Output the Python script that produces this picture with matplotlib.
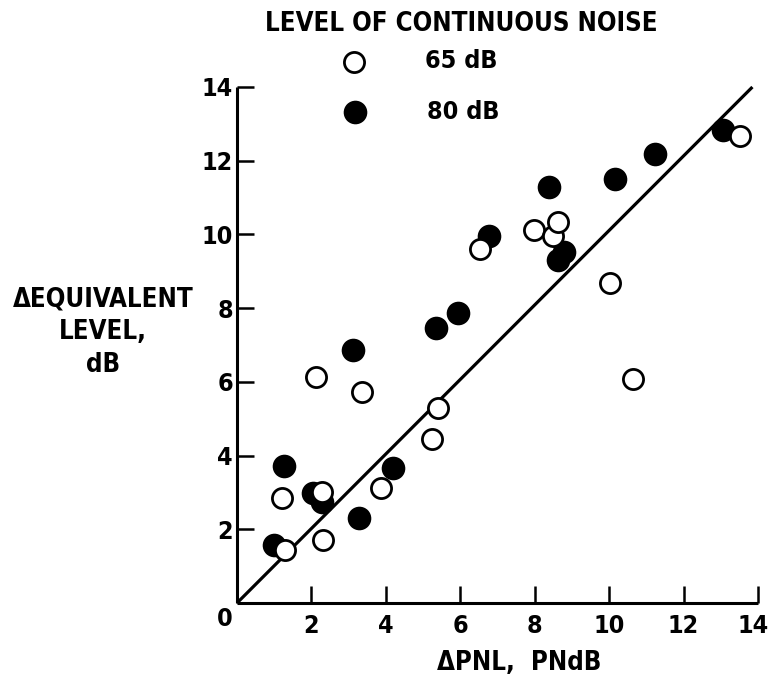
import matplotlib
matplotlib.use("Agg")
import matplotlib.pyplot as plt
from matplotlib.transforms import ScaledTranslation

# ---- data ----
open_x = [1.20, 1.29, 2.12, 2.28, 2.30, 3.35, 3.87, 5.25, 5.39, 6.53, 7.97, 8.50, 8.62, 10.03, 10.63, 13.52]
open_y = [2.85, 1.44, 6.12, 3.02, 1.71, 5.73, 3.11, 4.44, 5.28, 9.61, 10.13, 9.97, 10.33, 8.68, 6.09, 12.68]

filled_x = [0.99, 1.25, 2.05, 2.28, 3.13, 3.29, 4.18, 5.35, 5.95, 6.78, 8.39, 8.62, 8.79, 10.16, 11.24, 13.06]
filled_y = [1.57, 3.71, 2.99, 2.75, 6.86, 2.30, 3.65, 7.47, 7.87, 9.95, 11.28, 9.30, 9.52, 11.51, 12.19, 12.84]

fit_x = [0.0, 13.85]
fit_y = [0.0, 14.0]

ticks = [2, 4, 6, 8, 10, 12, 14]
tick_labels = ["2", "4", "6", "8", "10", "12", "14"]

title = "LEVEL OF CONTINUOUS NOISE"
legend_labels = ["65 dB", "80 dB"]
xlabel = "\u0394PNL,  PNdB"
ylabel = "\u0394EQUIVALENT\nLEVEL,\ndB"

# ---- style ----
FAM = ["DejaVu Sans"]
plt.rcParams["font.family"] = FAM
plt.rcParams["font.weight"] = "bold"
plt.rcParams["font.stretch"] = "condensed"

W, H = 770, 682
fig = plt.figure(figsize=(W / 100, H / 100), dpi=100)

def fx(px):
    return px / W

def fy(py):
    return 1 - py / H

TXT = dict(fontweight="bold", fontstretch="condensed")

x0, x1 = 237, 758
y0, y1 = 603, 87
ax = fig.add_axes([fx(x0), fy(y0), (x1 - x0) / W, (y0 - y1) / H])
ax.set_xlim(0, 14)
ax.set_ylim(0, 14)
for s in ["top", "right"]:
    ax.spines[s].set_visible(False)
for s in ["left", "bottom"]:
    ax.spines[s].set_linewidth(2.2)
    ax.spines[s].set_capstyle("butt")

ax.set_xticks(ticks)
ax.set_xticklabels(tick_labels)
ax.set_yticks(ticks)
ax.set_yticklabels(tick_labels)
ax.tick_params(axis="both", direction="in", length=12, width=1.8, labelsize=18)
ax.tick_params(axis="x", pad=8)
ax.tick_params(axis="y", pad=3)
for lab in ax.get_xticklabels() + ax.get_yticklabels():
    lab.set_fontweight("bold")
    lab.set_fontstretch("condensed")

# nudge the last x tick label inward so it stays inside the figure
last_tick = ax.xaxis.get_major_ticks()[-1]
last_tick.label1.set_transform(last_tick.label1.get_transform()
                               + ScaledTranslation(-0.05, 0, fig.dpi_scale_trans))

ax.plot(fit_x, fit_y, color="black", lw=2.3, solid_capstyle="butt", zorder=2, clip_on=False)

ax.plot(filled_x, filled_y, linestyle="none", marker="o", ms=15.5,
        mfc="black", mec="black", mew=1.5, zorder=3, clip_on=False)
ax.plot(open_x, open_y, linestyle="none", marker="o", ms=14.5,
        mfc="white", mec="black", mew=2.0, zorder=4, clip_on=False)

# shared origin label
fig.text(fx(225), fy(619), "0", ha="center", va="center", fontsize=18, **TXT)

# title & legend
fig.text(fx(461), fy(24), title, ha="center", va="center", fontsize=18.5, **TXT)
fig.lines.append(plt.Line2D([fx(354)], [fy(62)], transform=fig.transFigure, linestyle="none",
                            marker="o", ms=14.5, mfc="white", mec="black", mew=2.0))
fig.lines.append(plt.Line2D([fx(355)], [fy(112)], transform=fig.transFigure, linestyle="none",
                            marker="o", ms=15.5, mfc="black", mec="black", mew=1.5))
fig.text(fx(425), fy(61), legend_labels[0], ha="left", va="center", fontsize=18, **TXT)
fig.text(fx(427), fy(112), legend_labels[1], ha="left", va="center", fontsize=18, **TXT)

# axis labels
fig.text(fx(519), fy(663), xlabel, ha="center", va="center", fontsize=18.5, **TXT)
fig.text(fx(103), fy(332), ylabel, ha="center", va="center", fontsize=18.5,
         multialignment="center", linespacing=1.35, **TXT)

fig.savefig("out.png", dpi=100)
